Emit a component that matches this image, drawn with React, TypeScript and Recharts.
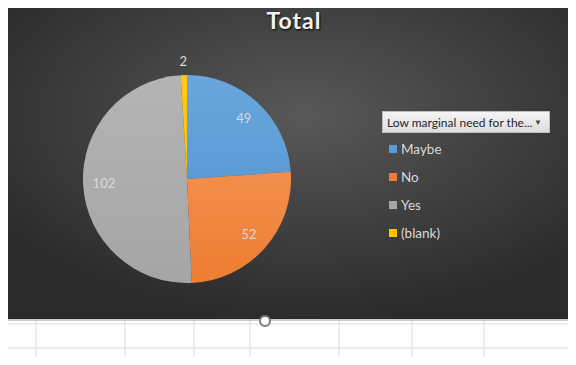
import { PieChart, Pie, Cell, Legend } from 'recharts';

const CATEGORIES = ['Maybe', 'No', 'Yes', '(blank)'];
const VALUES = [49, 52, 102, 2];
const COLORS = ['#5b9bd5', '#ed7d31', '#a5a5a5', '#ffc000'];
const COLORS_TOP = ['#69a6dc', '#f38e4c', '#b4b4b4', '#ffc81a'];
const GRID_X = [36, 125, 194, 250, 339, 412, 484];

const data = CATEGORIES.map((name, i) => ({ name, value: VALUES[i] }));

const FONT = 'Lato, "Open Sans", sans-serif';

function renderLabel(props: any) {
  const { cx, cy, midAngle, outerRadius, percent, value } = props;
  const RADIAN = Math.PI / 180;
  const r = percent < 0.05 ? outerRadius + 14 : outerRadius * 0.8;
  const x = cx + r * Math.cos(-midAngle * RADIAN);
  const y = cy + r * Math.sin(-midAngle * RADIAN);
  return (
    <text
      x={x}
      y={y}
      fill="#d9d9d9"
      textAnchor="middle"
      dominantBaseline="central"
      fontFamily={FONT}
      fontSize={13}
    >
      {value}
    </text>
  );
}

function LegendBox() {
  return (
    <div style={{ fontFamily: FONT, fontSize: 13.5 }}>
      <div
        style={{
          width: 168,
          height: 22,
          boxSizing: 'border-box',
          background: 'linear-gradient(#f4f4f4, #dedede)',
          border: '1px solid #bdbdbd',
          color: '#262626',
          display: 'flex',
          alignItems: 'center',
          justifyContent: 'space-between',
          padding: '0 7px 0 4px',
          whiteSpace: 'nowrap',
        }}
      >
        <span style={{ fontSize: 12 }}>Low marginal need for the...</span>
        <span style={{ fontSize: 8, color: '#444' }}>▼</span>
      </div>
      {CATEGORIES.map((c, i) => (
        <div
          key={c}
          style={{
            display: 'flex',
            alignItems: 'center',
            height: 28,
            marginTop: i === 0 ? 2 : 0,
            paddingLeft: 7,
            color: '#d9d9d9',
          }}
        >
          <span
            style={{
              width: 8,
              height: 8,
              background: COLORS[i],
              marginRight: 4,
              display: 'inline-block',
            }}
          />
          {c}
        </div>
      ))}
    </div>
  );
}

export default function App() {
  return (
    <div style={{ position: 'relative', width: 576, height: 365, margin: -8, background: '#fff' }}>
      <svg width={576} height={365} style={{ position: 'absolute', left: 0, top: 0 }}>
        <defs>
          <radialGradient id="bg" cx="52%" cy="35%" r="65%">
            <stop offset="0%" stopColor="#585858" />
            <stop offset="100%" stopColor="#2b2b2b" />
          </radialGradient>
        </defs>
        <rect x={0} y={0} width={576} height={365} fill="#fff" />
        {GRID_X.map((x) => (
          <line key={x} x1={x} x2={x} y1={320} y2={365} stroke="#d9d9d9" />
        ))}
        <line x1={8} x2={576} y1={348} y2={348} stroke="#d9d9d9" />
        <line x1={8} x2={576} y1={324} y2={324} stroke="#d9d9d9" />
        <rect x={8} y={6} width={568} height={313} fill="url(#bg)" />
        <line x1={8} x2={576} y1={320} y2={320} stroke="#9a9a9a" />
        <circle cx={265} cy={321} r={5} fill="#fff" stroke="#7a7a7a" strokeWidth={2} />
      </svg>
      <div
        style={{
          position: 'absolute',
          left: 10,
          width: 568,
          top: 6,
          textAlign: 'center',
          fontFamily: FONT,
          fontWeight: 700,
          fontSize: 23,
          color: '#f2f2f2',
          textShadow: '1px 1px 2px #000',
          letterSpacing: 1,
        }}
      >
        Total
      </div>
      <PieChart width={576} height={365} style={{ position: 'absolute', left: 0, top: 0 }}>
        <defs>
          {COLORS.map((c, i) => (
            <linearGradient key={c} id={`g${i}`} x1="0" y1="0" x2="0" y2="1">
              <stop offset="0%" stopColor={COLORS_TOP[i]} />
              <stop offset="100%" stopColor={c} />
            </linearGradient>
          ))}
        </defs>
        <Pie
          data={data}
          dataKey="value"
          nameKey="name"
          cx={182}
          cy={174}
          outerRadius={104}
          startAngle={90}
          endAngle={-270}
          stroke="none"
          labelLine={false}
          label={renderLabel}
          isAnimationActive={false}
        >
          {data.map((_, i) => (
            <Cell key={`cell-${i}`} fill={`url(#g${i})`} />
          ))}
        </Pie>
        <Legend
          layout="vertical"
          align="right"
          verticalAlign="top"
          content={() => <LegendBox />}
          wrapperStyle={{ left: 382, top: 111, width: 170 }}
        />
      </PieChart>
    </div>
  );
}
